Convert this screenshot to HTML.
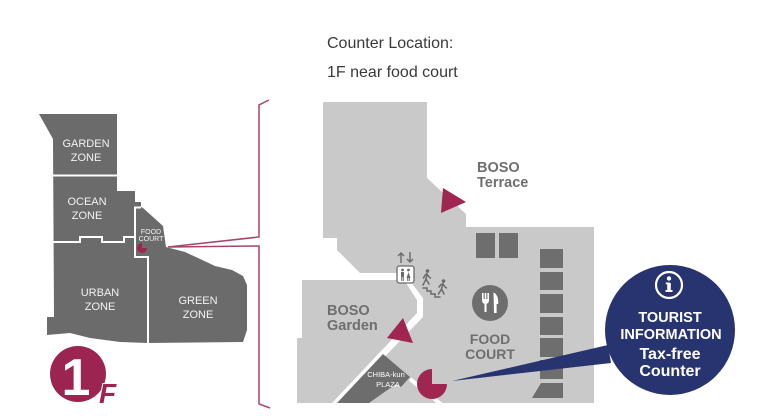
<!DOCTYPE html>
<html><head><meta charset="utf-8"><style>
html,body{margin:0;padding:0;background:#fff;}
svg{display:block;}
text{font-family:"Liberation Sans",Arial,sans-serif;}
</style></head><body>
<svg width="760" height="418" viewBox="0 0 760 418" xmlns="http://www.w3.org/2000/svg">
<!-- title -->
<text x="327" y="48" font-size="16" fill="#3a3a3a">Counter Location:</text>
<text x="327" y="77" font-size="16" fill="#3a3a3a">1F near food court</text>

<!-- left overview map -->
<polygon fill="#6b6b6b" points="39,114 117,114 117,191 135,191 135,202 141,202 141,207 143,208 163,226 166,247 185,252 198,258 215,266 232,270 243,276 247,285 247,330 243,342 148,343 120,342 90,338 70,333 47,335 47,317 54,317 53,139"/>
<g stroke="#fff" stroke-width="2" fill="none">
<line x1="52" y1="175.5" x2="118" y2="175.5"/>
<polyline points="52,242 80,242 80,237 102,237 102,242 124,242 124,237 136,237"/>
<polyline points="135,207 135,257 148,257 148,344"/>
<line x1="134" y1="207.5" x2="141" y2="207.5"/>
</g>
<g fill="#f2f2f2" font-size="11" text-anchor="middle">
<text x="86" y="147">GARDEN</text><text x="86" y="161">ZONE</text>
<text x="87" y="205">OCEAN</text><text x="87" y="219">ZONE</text>
<text x="100" y="296">URBAN</text><text x="100" y="310">ZONE</text>
<text x="198" y="304">GREEN</text><text x="198" y="318">ZONE</text>
</g>
<g fill="#f2f2f2" font-size="7" text-anchor="middle"><text x="151" y="234">FOOD</text><text x="151" y="241">COURT</text></g>
<path d="M142,248 L147,248 A5,5 0 1,1 142,243 Z" fill="#9c2550"/>

<!-- 1F badge -->
<circle cx="78" cy="374" r="28" fill="#9b2450"/>
<text x="76" y="395" font-size="52" font-weight="bold" fill="#fff" text-anchor="middle">1</text>
<text x="99" y="403" font-size="28" font-weight="bold" font-style="italic" fill="#9b2450" stroke="#fff" stroke-width="2" paint-order="stroke">F</text>

<!-- bracket & connectors -->
<polyline points="269,100 259,105 259,237 168,247 259,246 259,404 270,408" stroke="#a8446a" stroke-width="1.5" fill="none"/>

<!-- right detailed map -->
<polygon fill="#c9c9c9" points="323,102 427,102 427,178 466,214 466,227 594,227 594,403 340,403 423,317 423,298 404,273 360,273 337,250 337,238 323,238"/>
<polygon fill="#c9c9c9" points="302,280 404,280 417,300 417,313 332,403 297,403 297,338 302,338"/>

<!-- plaza -->
<polygon fill="#6d6d6d" points="337,403 383,354 410,377 401,387 396,384 369,403"/>
<g fill="#fff" font-size="7.5" text-anchor="middle"><text x="386" y="377">CHIBA-kun</text><text x="388" y="387">PLAZA</text></g>
<line x1="410" y1="379" x2="443" y2="406" stroke="#fff" stroke-width="4"/>

<!-- stalls -->
<g fill="#6e6e6e">
<rect x="476" y="233" width="19" height="25"/>
<rect x="499" y="233" width="19" height="25"/>
<rect x="540" y="249" width="23" height="19"/>
<rect x="540" y="272" width="23" height="18"/>
<rect x="540" y="294" width="23" height="19"/>
<rect x="540" y="317" width="23" height="18"/>
<rect x="540" y="338" width="23" height="19"/>
<rect x="540" y="360" width="23" height="19"/>
<polygon points="541,383 563,383 563,398 532,398"/>
</g>

<!-- labels -->
<g fill="#6f6f6f" font-size="14.5" font-weight="bold">
<text x="477" y="172">BOSO</text><text x="477" y="187">Terrace</text>
<text x="327" y="315">BOSO</text><text x="327" y="330">Garden</text>
</g>
<g fill="#6f6f6f" font-size="14" font-weight="bold" text-anchor="middle">
<text x="490" y="344">FOOD</text><text x="490" y="359">COURT</text>
</g>

<!-- arrows (triangles) -->
<polygon fill="#9e2650" points="443,188 466,202 441,213"/>
<polygon fill="#9e2650" points="403,318 387,338 413,343"/>

<!-- elevator / escalator icons -->
<g stroke="#6a6a6a" stroke-width="1.4" fill="none">
<line x1="401" y1="253" x2="401" y2="263"/><polyline points="398,256 401,253 404,256"/>
<line x1="410" y1="252" x2="410" y2="262"/><polyline points="407,259 410,262 413,259"/>
</g>
<rect x="397" y="266" width="17" height="17" rx="2.5" fill="#fff" stroke="#6a6a6a" stroke-width="1.3"/>
<g fill="#6a6a6a">
<circle cx="402.5" cy="270" r="1.4"/><rect x="401" y="272" width="3" height="5"/><rect x="401.2" y="277" width="1" height="4"/><rect x="402.8" y="277" width="1" height="4"/>
<circle cx="408.5" cy="270" r="1.4"/><polygon points="408.5,272 410.5,278 406.5,278"/><rect x="407.2" y="278" width="1" height="3"/><rect x="408.8" y="278" width="1" height="3"/>
<circle cx="427.5" cy="271" r="1.8"/><circle cx="443.5" cy="281" r="1.8"/>
</g>
<g stroke="#6a6a6a" stroke-width="1.5" fill="none" stroke-linecap="round">
<line x1="427" y1="273.5" x2="426" y2="279"/><polyline points="423,285 426,279 429,284"/><polyline points="423.5,278 425,275 427,274 429,277 430.5,278"/>
<line x1="443" y1="283.5" x2="441.5" y2="289"/><polyline points="438.5,294 441.5,289 444,294"/><polyline points="439,287 441,284.5 443,284 445,287 446.5,288"/>
<polyline points="423,288 427,288 427,291 431,291 431,294 435,294 435,297 440,297"/>
</g>

<!-- food court icon -->
<circle cx="490" cy="303" r="18" fill="#6e6e6e"/>
<g fill="#fff">
<rect x="482" y="293" width="1.6" height="7"/><rect x="484.7" y="293" width="1.6" height="7"/><rect x="487.4" y="293" width="1.6" height="7"/>
<path d="M482,299 h7 v1.2 q0,3 -2.5,3.6 v8.2 h-2 v-8.2 q-2.5,-0.6 -2.5,-3.6 z"/>
<path d="M493.5,292.5 C497,294 498.6,298 498.2,304 L496.6,304 L496.6,313 L494,313 Z"/>
</g>

<!-- counter marker pie -->
<path d="M432,384 L447,384 A15,15 0 1,1 432,369 Z" fill="#9e2650"/>

<!-- pointer and info bubble -->
<polygon fill="#283470" points="452,381 608,345 611,363"/>
<circle cx="670" cy="330" r="65" fill="#283470"/>
<circle cx="669" cy="285" r="13" fill="none" stroke="#fff" stroke-width="2.2"/>
<g fill="#fff">
<circle cx="669" cy="278.5" r="2.2"/>
<rect x="667.2" y="283" width="3.6" height="8"/>
<rect x="665.5" y="290" width="7" height="2"/>
<rect x="665.8" y="282.5" width="4" height="1.8"/>
</g>
<g fill="#fff" font-weight="bold" text-anchor="middle">
<text x="670" y="322" font-size="14.5">TOURIST</text>
<text x="671" y="339" font-size="14.5">INFORMATION</text>
<text x="670" y="359" font-size="16">Tax-free</text>
<text x="670" y="376" font-size="16">Counter</text>
</g>
</svg>
</body></html>
